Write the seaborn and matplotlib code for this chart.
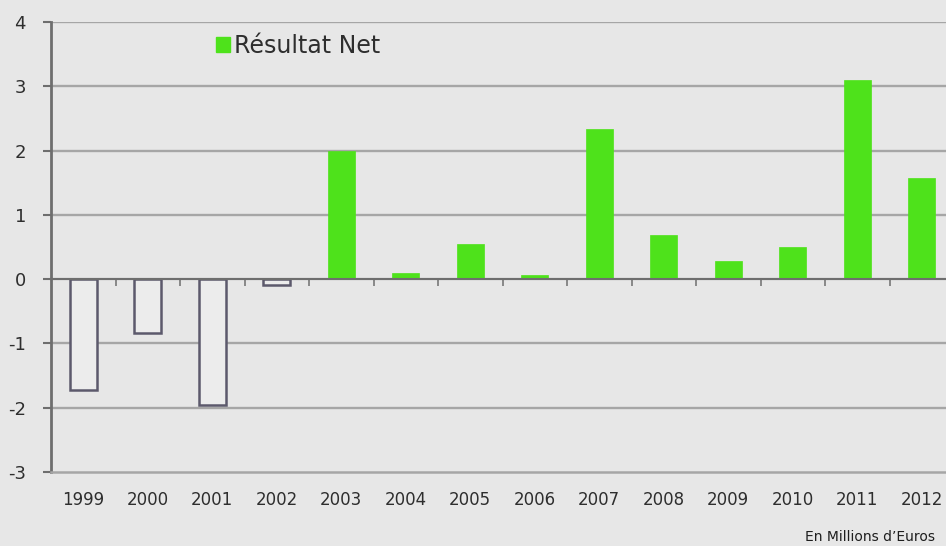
import matplotlib
matplotlib.use("Agg")
import matplotlib.pyplot as plt
from matplotlib.patches import Patch
import seaborn as sns
import pandas as pd

# Net result per year, in millions of euros
years = ["1999", "2000", "2001", "2002", "2003", "2004", "2005", "2006",
         "2007", "2008", "2009", "2010", "2011", "2012"]
net_result = [-1.73, -0.83, -1.95, -0.09, 2.0, 0.10, 0.55, 0.07,
              2.34, 0.68, 0.29, 0.50, 3.10, 1.57]
y_ticks = [-3, -2, -1, 0, 1, 2, 3, 4]
legend_label = "Résultat Net"
unit_note = "En Millions d\u2019Euros"

BG = "#e7e7e7"
GREEN = "#4ee21b"
NEG_FILL = "#ececec"
NEG_EDGE = "#5c596c"
GRID = "#a6a6a6"
AXIS = "#6e6e6e"
TEXT = "#2e2e2e"

sns.set_style("white")
plt.rcParams["font.family"] = ["DejaVu Sans"]

df = pd.DataFrame({"year": years, "value": net_result})

fig = plt.figure(figsize=(9.46, 5.46), dpi=100, facecolor=BG)
W, H = 946, 546
left, right, top, bottom = 51, 954, 22, 472
ax = fig.add_axes([left / W, 1 - bottom / H, (right - left) / W, (bottom - top) / H])
ax.set_facecolor(BG)

sns.barplot(data=df, x="year", y="value", color=GREEN, width=0.42,
            saturation=1, ax=ax, zorder=3)

for patch, v in zip(ax.patches, net_result):
    if v < 0:
        patch.set_facecolor(NEG_FILL)
        patch.set_edgecolor(NEG_EDGE)
        patch.set_linewidth(1.8)
    else:
        patch.set_edgecolor(GREEN)
        patch.set_linewidth(0.5)

ax.set_xlim(-0.5, len(years) - 0.5)
ax.set_ylim(-3, 4)
ax.set_yticks(y_ticks)
ax.set_yticklabels([str(t) for t in y_ticks], fontsize=13, color=TEXT)
ax.set_xlabel("")
ax.set_ylabel("")

# horizontal gridlines
for t in y_ticks:
    if t not in (0, -3):
        ax.axhline(t, color=GRID, lw=1.7, zorder=1)

for s in ("top", "right"):
    ax.spines[s].set_visible(False)
ax.spines["left"].set_color(AXIS)
ax.spines["left"].set_linewidth(2.0)
ax.spines["bottom"].set_color(GRID)
ax.spines["bottom"].set_linewidth(1.8)

ax.tick_params(axis="y", left=True, direction="out", length=6, width=1.5,
               color=AXIS, pad=12)
ax.tick_params(axis="x", bottom=False, length=0, pad=14, labelsize=12,
               labelcolor=TEXT)

# zero axis with category boundary ticks
zero_frac = 3 / 7
sec = ax.secondary_xaxis(zero_frac)
sec.set_xticks([i + 0.5 for i in range(len(years) - 1)])
sec.set_xticklabels([])
sec.tick_params(bottom=True, direction="out", length=5, width=1.1, color=AXIS)
sec.spines["bottom"].set_color(AXIS)
sec.spines["bottom"].set_linewidth(1.5)
for s in ("top", "left", "right"):
    sec.spines[s].set_visible(False)
ax.axhline(0, color=AXIS, lw=1.5, zorder=4)

leg = fig.legend(handles=[Patch(facecolor=GREEN, edgecolor=GREEN)],
                 labels=[legend_label], loc="center left",
                 bbox_to_anchor=(216 / W, 1 - 46 / H), frameon=False,
                 handlelength=0.6, handleheight=0.6, handletextpad=0.15,
                 borderpad=0, borderaxespad=0, fontsize=17)
for txt in leg.get_texts():
    txt.set_color(TEXT)

fig.text(935 / W, 1 - 537 / H, unit_note, ha="right", va="center",
         fontsize=10, color="#1e1e1e")

fig.savefig("out.png", dpi=100, facecolor=BG)
